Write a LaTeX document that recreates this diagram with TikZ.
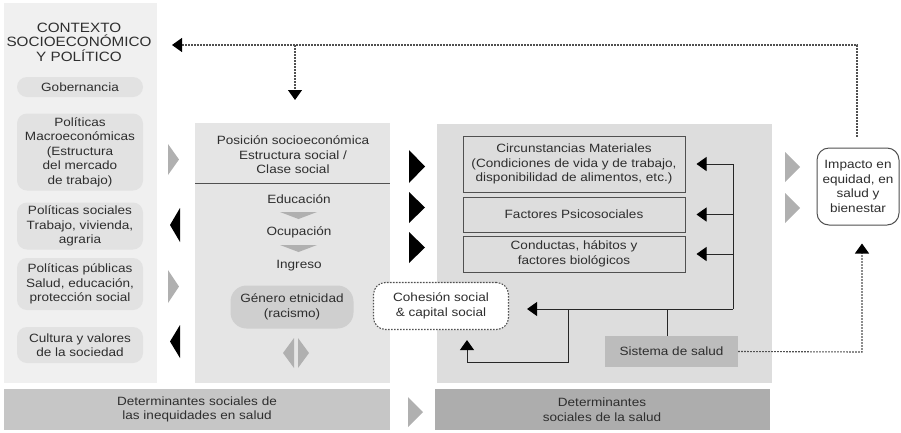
\documentclass[tikz,border=0pt]{standalone}
\usepackage{fontspec}
\setmainfont{Liberation Sans}[FakeStretch=1.13]
\usetikzlibrary{arrows.meta}
\definecolor{txt}{HTML}{2E2E2E}
\definecolor{ctxc}{HTML}{F0F0F0}
\definecolor{pillc}{HTML}{E2E2E2}
\definecolor{midc}{HTML}{E5E5E5}
\definecolor{genc}{HTML}{CFCFCF}
\definecolor{rgtc}{HTML}{DDDDDD}
\definecolor{botl}{HTML}{C6C6C6}
\definecolor{botr}{HTML}{ADADAD}
\definecolor{sisc}{HTML}{BCBCBC}
\definecolor{edgec}{HTML}{505050}
\definecolor{trigray}{HTML}{B0B0B0}
\tikzset{
  panel/.style={fill=#1, draw=none, inner sep=0pt},
  pill/.style={fill=pillc, rounded corners=10pt, minimum width=126pt, align=center, inner sep=1pt},
  fbox/.style={fill=rgtc, draw=edgec, line width=1pt, minimum width=222pt, align=center, inner sep=1pt},
  lbl/.style={align=center, inner sep=0pt},
  conn/.style={draw=black!85, line width=1pt},
  dotl/.style={draw=edgec, line width=1.1pt, dash pattern=on 1.6pt off 1.4pt},
  tip/.style={-{Triangle[length=10pt,width=14pt,color=black]}},
  trig/.style={fill=trigray},
  trib/.style={fill=black},
}
\begin{document}
\begin{tikzpicture}[x=1pt,y=-1pt,font=\fontsize{12}{14.5}\selectfont,text=txt]
\useasboundingbox (0,0) rectangle (901,432);
% panels
\node[panel=ctxc, minimum width=153pt, minimum height=380pt] (ctx) at (80.5,193) {};
\node[panel=midc, minimum width=195pt, minimum height=260pt] (mid) at (292.5,253) {};
\node[panel=rgtc, minimum width=335pt, minimum height=259pt] (rgt) at (604.5,253.5) {};
\node[panel=botl, minimum width=386pt, minimum height=41pt, align=center] (bl) at (197,409.5) {Determinantes sociales de\\las inequidades en salud};
\node[panel=botr, minimum width=335pt, minimum height=41pt, align=center] (br) at (602,409.5) {Determinantes\\sociales de la salud};
% left column
\node[lbl, font=\fontsize{13.5}{14.5}\selectfont] (title) at (79,42) {CONTEXTO\\SOCIOECONÓMICO\\Y POLÍTICO};
\node[pill, minimum height=20pt] (gob) at (80,87) {Gobernancia};
\node[pill, minimum height=77pt] (mac) at (80,152) {Políticas\\Macroeconómicas\\(Estructura\\del mercado\\de trabajo)};
\node[pill, minimum height=47pt] (soc) at (80,226) {Políticas sociales\\Trabajo, vivienda,\\agraria};
\node[pill, minimum height=52pt] (pub) at (80,284) {Políticas públicas\\Salud, educación,\\protección social};
\node[pill, minimum height=36pt] (cul) at (80,345) {Cultura y valores\\de la sociedad};
% middle column
\node[lbl] (pos) at (293,155) {Posición socioeconómica\\Estructura social /\\Clase social};
\coordinate (hl) at (195,183);
\coordinate (hr) at (390,183);
\draw[draw=edgec, line width=1pt] (hl) -- (hr);
\node[lbl] (edu) at (299,199) {Educación};
\node[lbl] (ocu) at (299,232) {Ocupación};
\node[lbl] (ing) at (299,266) {Ingreso};
\node[fill=genc, rounded corners=16pt, minimum width=123pt, minimum height=43pt, align=center, inner sep=1pt] (gen) at (292,307) {Género etnicidad\\(racismo)};
\fill[trig] (280,212) -- (317,212) -- (298.5,219) -- cycle;
\fill[trig] (280,245) -- (317,245) -- (298.5,252) -- cycle;
\fill[trig] (294,338) -- (283,353) -- (294,368) -- cycle;
\fill[trig] (298,338) -- (309,353) -- (298,368) -- cycle;
% right column
\node[fbox, minimum height=56pt] (cir) at (574,164) {Circunstancias Materiales\\(Condiciones de vida y de trabajo,\\disponibilidad de alimentos, etc.)};
\node[fbox, minimum height=35pt] (fac) at (574,214.5) {Factores Psicosociales};
\node[fbox, minimum height=36pt] (con) at (574,254) {Conductas, hábitos y\\factores biológicos};
\node[fill=white, draw=edgec, line width=1.1pt, dash pattern=on 1.6pt off 1.4pt, rounded corners=12pt, minimum width=135pt, minimum height=47pt, align=center, inner sep=1pt] (coh) at (441,306) {Cohesión social\\\& capital social};
\node[fill=sisc, minimum width=133pt, minimum height=31pt, inner sep=1pt] (sis) at (671.5,351.5) {Sistema de salud};
\node[fill=white, draw=edgec, line width=1pt, rounded corners=12pt, minimum width=82pt, minimum height=77pt, align=center, inner sep=1pt] (imp) at (858,186.5) {Impacto en\\equidad, en\\salud y\\bienestar};
% solid connectors
\coordinate (vx) at (733,309);
\coordinate (jx) at (568,309);
\coordinate (lp) at (467,362);
\draw[conn] (vx |- cir.east) -- (vx);
\draw[conn,tip,shorten >=11pt] (vx |- cir.east) -- (cir.east);
\draw[conn,tip,shorten >=11pt] (vx |- fac.east) -- (fac.east);
\draw[conn,tip,shorten >=11pt] (vx |- con.east) -- (con.east);
\draw[conn,tip,shorten >=18pt] (vx) -- (coh.east |- vx);
\draw[conn,tip,shorten >=10pt] (jx) |- (lp) -- (lp |- coh.south);
\draw[conn] (sis.north -| 667,0) -- (vx -| 667,0);
% dotted connectors
\coordinate (dx) at (862,352);
\coordinate (tr) at (857,45);
\coordinate (tl) at (172,45);
\coordinate (td) at (295,45);
\coordinate (tdd) at (295,100);
\draw[dotl,tip,shorten >=18pt] (sis.east) -- (dx) -- (dx |- imp.south);
\draw[dotl,tip,shorten <=11pt] (imp.north -| tr) -- (tr) -- (tl);
\draw[dotl,tip] (td) -- (tdd);
% triangles left
\fill[trig] (168,144) -- (179,159.5) -- (168,175) -- cycle;
\fill[trib] (180,208) -- (170,225) -- (180,242) -- cycle;
\fill[trig] (168,270) -- (179,286.5) -- (168,303) -- cycle;
\fill[trib] (180,325) -- (170,341.5) -- (180,358) -- cycle;
% triangles middle
\fill[trib] (409,150) -- (425,166.5) -- (409,183) -- cycle;
\fill[trib] (409,192) -- (425,207.5) -- (409,223) -- cycle;
\fill[trib] (409,232) -- (425,247.5) -- (409,263) -- cycle;
% triangles right
\fill[trig] (785,152) -- (800,167) -- (785,182) -- cycle;
\fill[trig] (785,193) -- (800,208) -- (785,223) -- cycle;
% bottom
\fill[trig] (408,397) -- (423,412) -- (408,427) -- cycle;
\end{tikzpicture}
\end{document}
